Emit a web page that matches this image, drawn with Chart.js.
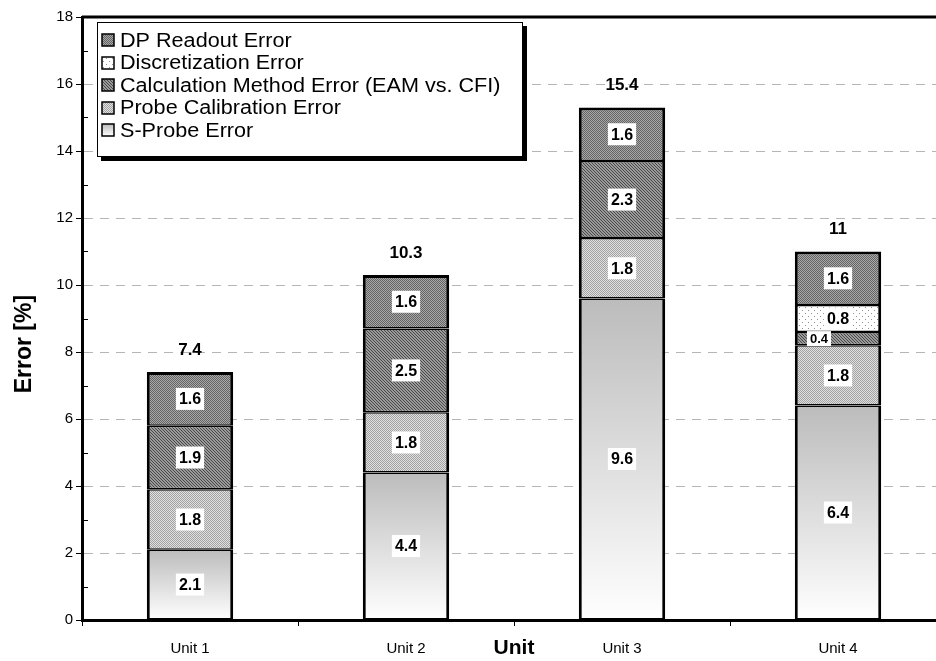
<!DOCTYPE html>
<html>
<head>
<meta charset="utf-8">
<script src="https://cdn.jsdelivr.net/npm/chart.js@4/dist/chart.umd.min.js"></script>
<style>
  html, body { margin: 0; padding: 0; overflow: hidden; background: #fff; }
  #wrap { position: absolute; left: 0; top: 0; width: 960px; height: 661px; }
</style>
</head>
<body>
<div id="wrap"><canvas id="errorChart" width="960" height="661"></canvas></div>
<script>
const units = ['Unit 1', 'Unit 2', 'Unit 3', 'Unit 4'];
const sProbe = [2.1, 4.4, 9.6, 6.4];
const probeCalibration = [1.8, 1.8, 1.8, 1.8];
const calcMethod = [1.9, 2.5, 2.3, 0.4];
const discretization = [0, 0, 0, 0.8];
const dpReadout = [1.6, 1.6, 1.6, 1.6];
const totals = ['7.4', '10.3', '15.4', '11'];

const FONT = 'Arial, "Liberation Sans", sans-serif';

// small repeating fills, like the old excel patterns
function makePattern(size, draw) {
    const c = document.createElement('canvas');
    c.width = c.height = size;
    const g = c.getContext('2d');
    draw(g);
    return g.createPattern(c, 'repeat');
}

const dpFill = makePattern(2, g => {
    g.fillStyle = '#a8a8a8'; g.fillRect(0, 0, 2, 2);
    g.fillStyle = '#646464'; g.fillRect(0, 0, 1, 1); g.fillRect(1, 1, 1, 1);
});
const discFill = makePattern(6, g => {
    g.fillStyle = '#ffffff'; g.fillRect(0, 0, 6, 6);
    g.fillStyle = '#909090'; g.fillRect(1, 1, 1, 1); g.fillRect(4, 4, 1, 1);
});
const calcFill = makePattern(3, g => {
    g.fillStyle = '#9a9a9a'; g.fillRect(0, 0, 3, 3);
    g.fillStyle = '#484848';
    for (let i = 0; i < 3; i++) g.fillRect(i, i, 1, 1);
});
const probeFill = makePattern(2, g => {
    g.fillStyle = '#e0e0e0'; g.fillRect(0, 0, 2, 2);
    g.fillStyle = '#a2a2a2'; g.fillRect(0, 0, 1, 1); g.fillRect(1, 1, 1, 1);
});

function sProbeFill(ctx) {
    const chart = ctx.chart;
    const y = chart.scales && chart.scales.y;
    if (!chart.chartArea || !y || ctx.dataIndex === undefined) return '#d8d8d8';
    const top = y.getPixelForValue(sProbe[ctx.dataIndex]);
    const bottom = y.getPixelForValue(0);
    const grad = chart.ctx.createLinearGradient(0, top, 0, bottom);
    grad.addColorStop(0, '#bcbcbc');
    grad.addColorStop(1, '#ffffff');
    return grad;
}

const midBorder = { top: 1.5, bottom: 1.5, left: 3, right: 3 };
const topBorder = { top: 3, bottom: 1.5, left: 3, right: 3 };

const datasets = [
    { label: 'S-Probe Error', data: sProbe, backgroundColor: sProbeFill, borderWidth: midBorder },
    { label: 'Probe Calibration Error', data: probeCalibration, backgroundColor: probeFill, borderWidth: midBorder },
    { label: 'Calculation Method Error (EAM vs. CFI)', data: calcMethod, backgroundColor: calcFill, borderWidth: midBorder },
    { label: 'Discretization Error', data: discretization, backgroundColor: discFill, borderWidth: midBorder },
    { label: 'DP Readout Error', data: dpReadout, backgroundColor: dpFill, borderWidth: topBorder }
].map(d => Object.assign(d, { borderColor: '#000', borderSkipped: false, barPercentage: 0.4, categoryPercentage: 1 }));

// value boxes inside segments and totals above
const labelPlugin = {
    id: 'labels',
    afterDatasetsDraw(chart) {
        const ctx = chart.ctx;
        ctx.save();
        ctx.textAlign = 'center';
        ctx.textBaseline = 'middle';
        chart.data.datasets.forEach((ds, di) => {
            chart.getDatasetMeta(di).data.forEach((bar, i) => {
                const v = ds.data[i];
                if (!v) return;
                const h = Math.abs(bar.base - bar.y);
                const small = h < 20;
                ctx.font = 'bold ' + (small ? 13 : 16) + 'px ' + FONT;
                const txt = v.toFixed(1);
                const w = ctx.measureText(txt).width;
                const cx = small ? bar.x - bar.width * 0.22 : bar.x;
                const cy = (bar.y + bar.base) / 2;
                const bh = small ? 15 : 22;
                ctx.fillStyle = '#fff';
                ctx.fillRect(cx - w / 2 - 3, cy - bh / 2, w + 6, bh);
                ctx.fillStyle = '#000';
                ctx.fillText(txt, cx, cy + 1);
            });
        });
        const last = chart.getDatasetMeta(chart.data.datasets.length - 1).data;
        ctx.font = 'bold 17px ' + FONT;
        last.forEach((bar, i) => {
            ctx.fillText(totals[i], bar.x, bar.y - 22);
        });
        ctx.restore();
    }
};

// plot frame, inward minor ticks and the boxed legend with shadow
const framePlugin = {
    id: 'frame',
    afterDraw(chart) {
        const ctx = chart.ctx;
        const ca = chart.chartArea;
        const y = chart.scales.y;
        ctx.save();
        ctx.strokeStyle = '#000';
        ctx.lineWidth = 3;
        ctx.beginPath();
        ctx.moveTo(ca.left, ca.top);
        ctx.lineTo(ca.right, ca.top);
        ctx.lineTo(ca.right, ca.bottom);
        ctx.stroke();

        ctx.lineWidth = 1;
        for (let v = 1; v < 18; v += 2) {
            const py = Math.round(y.getPixelForValue(v)) + 0.5;
            ctx.beginPath();
            ctx.moveTo(ca.left, py);
            ctx.lineTo(ca.left + 6, py);
            ctx.stroke();
        }

        const lx = ca.left + 15, ly = ca.top + 5, lw = 426, lh = 135;
        ctx.fillStyle = '#000';
        ctx.fillRect(lx + 4, ly + 4, lw, lh);
        ctx.fillStyle = '#fff';
        ctx.fillRect(lx, ly, lw, lh);
        ctx.strokeRect(lx + 0.5, ly + 0.5, lw - 1, lh - 1);

        const order = chart.data.datasets.slice().reverse();
        ctx.font = '20px ' + FONT;
        ctx.textBaseline = 'middle';
        order.forEach((ds, k) => {
            const cy = ly + 18 + k * 22.5;
            const sx = lx + 5, sy = Math.round(cy - 6);
            let fill = ds.backgroundColor;
            if (typeof fill === 'function') {
                fill = ctx.createLinearGradient(0, sy, 0, sy + 12);
                fill.addColorStop(0, '#bcbcbc');
                fill.addColorStop(1, '#ffffff');
            }
            ctx.fillStyle = fill;
            ctx.fillRect(sx, sy, 12, 12);
            ctx.lineWidth = 1.5;
            ctx.strokeRect(sx, sy, 12, 12);
            ctx.fillStyle = '#000';
            ctx.save();
            ctx.translate(lx + 23, cy + 1);
            ctx.scale(1.08, 1);
            ctx.fillText(ds.label, 0, 0);
            ctx.restore();
        });
        ctx.restore();
    }
};

new Chart(document.getElementById('errorChart'), {
    type: 'bar',
    data: { labels: units, datasets: datasets },
    options: {
        responsive: false,
        animation: false,
        layout: { padding: { top: 17, right: 14, left: 0, bottom: 0 } },
        plugins: { legend: { display: false }, tooltip: { enabled: false } },
        scales: {
            x: {
                stacked: true,
                afterFit(scale) { scale.height = 41; },
                grid: { offset: true, drawOnChartArea: false, color: '#000', tickLength: 6 },
                border: { color: '#000', width: 3 },
                ticks: { color: '#000', padding: 14, font: { family: FONT, size: 15 } },
                title: { display: true, text: 'Unit', color: '#000', padding: { top: 0, bottom: 0 }, font: { family: FONT, size: 21, weight: 'bold' } }
            },
            y: {
                stacked: true,
                min: 0,
                max: 18,
                afterFit(scale) { scale.width = 82; },
                grid: {
                    color: c => (c.tick && c.tick.value % 2 === 0 && c.tick.value > 0 && c.tick.value < 18) ? '#b4b4b4' : 'rgba(0,0,0,0)',
                    tickColor: c => (c.tick && c.tick.value % 2 === 0) ? '#000' : 'rgba(0,0,0,0)',
                    tickLength: 6
                },
                border: { color: '#000', width: 3, dash: [9, 7] },
                ticks: {
                    stepSize: 1,
                    autoSkip: false,
                    color: '#000',
                    padding: 3,
                    font: { family: FONT, size: 15 },
                    callback: v => (v % 2 === 0 ? v : '')
                },
                // trailing spaces push the rotated title a little lower, as in the original
                title: { display: true, text: 'Error [%]        ', color: '#000', padding: { top: 11, bottom: 0 }, font: { family: FONT, size: 23, weight: 'bold' } }
            }
        }
    },
    plugins: [labelPlugin, framePlugin]
});
</script>
</body>
</html>
